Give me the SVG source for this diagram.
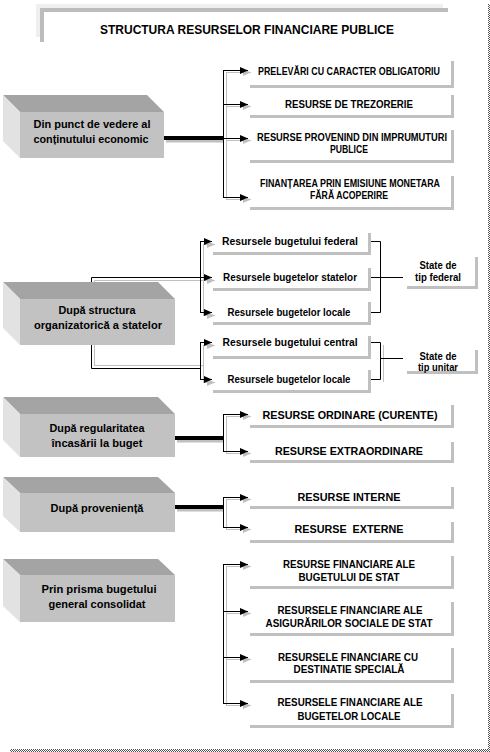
<svg xmlns="http://www.w3.org/2000/svg" width="490" height="752" viewBox="0 0 490 752">
<style>
.t{font-family:"Liberation Sans Narrow","Liberation Sans",Arial,sans-serif;font-weight:bold;text-anchor:middle;fill:#000}
.s10{font-size:10px}.s11{font-size:11px}.s13{font-size:13px}
.bx{fill:none;stroke:#c0c0c0;stroke-width:3}
.c{fill:none;stroke:#000;stroke-width:1}
.cg{fill:none;stroke:#c0c0c0;stroke-width:1}
.thk{stroke:#000;stroke-width:4}
.thkg{stroke:#c0c0c0;stroke-width:3}
.top{fill:#a4a4a4}.side{fill:#e2e2e2}.front{fill:#c2c2c2}
.a{marker-end:url(#ah)}.ag{marker-end:url(#ahg)}
</style>
<defs>
<marker id="ah" markerWidth="8" markerHeight="7" refX="8" refY="3.5" orient="auto" markerUnits="userSpaceOnUse"><path d="M0,0 L8,3.5 L0,7 z" fill="#000"/></marker>
<marker id="ahg" markerWidth="8" markerHeight="7" refX="8" refY="3.5" orient="auto" markerUnits="userSpaceOnUse"><path d="M0,0 L8,3.5 L0,7 z" fill="#c0c0c0"/></marker>
<pattern id="chk" width="2" height="2" patternUnits="userSpaceOnUse"><rect width="1" height="1" fill="#555"/><rect x="1" y="1" width="1" height="1" fill="#555"/></pattern>
</defs>
<rect width="490" height="752" fill="#fff"/>
<rect x="488" y="4" width="2" height="748" fill="url(#chk)"/>
<rect x="10" y="749" width="480" height="3" fill="url(#chk)"/>

<g id="title">
<rect x="36" y="4" width="407" height="33" fill="#efefef"/>
<rect x="40" y="8" width="408" height="34" fill="#bcbcbc"/>
<rect x="44" y="12" width="410" height="40" fill="#fff"/>
<text class="t s13" x="247" y="34" textLength="294" lengthAdjust="spacingAndGlyphs">STRUCTURA RESURSELOR FINANCIARE PUBLICE</text>
</g>

<g id="connectors">
<!-- section 1 -->
<line class="thkg" x1="166" y1="141" x2="224" y2="141"/>
<path class="cg" d="M226.5,72 V199"/>
<line class="cg ag" x1="226" y1="72.5" x2="251" y2="72.5"/>
<line class="cg ag" x1="226" y1="106.5" x2="251" y2="106.5"/>
<line class="cg ag" x1="226" y1="140.5" x2="251" y2="140.5"/>
<line class="cg ag" x1="226" y1="199.5" x2="251" y2="199.5"/>
<line class="thk" x1="164" y1="138" x2="224" y2="138"/>
<path class="c" d="M223.5,70 V198"/>
<line class="c a" x1="223" y1="70.5" x2="248" y2="70.5"/>
<line class="c a" x1="223" y1="104.5" x2="248" y2="104.5"/>
<line class="c a" x1="223" y1="138.5" x2="248" y2="138.5"/>
<line class="c a" x1="223" y1="197.5" x2="248" y2="197.5"/>

<!-- section 2 -->
<path class="cg" d="M94.5,299 V280.5 H203"/>
<line class="cg ag" x1="203" y1="280.5" x2="215" y2="280.5"/>
<path class="cg" d="M203.5,244 V315"/>
<line class="cg ag" x1="203" y1="244.5" x2="215" y2="244.5"/>
<line class="cg ag" x1="203" y1="315.5" x2="215" y2="315.5"/>
<path class="cg" d="M94.5,345 V365.5 H203"/>
<path class="cg" d="M203.5,345 V382"/>
<line class="cg ag" x1="203" y1="345.5" x2="215" y2="345.5"/>
<line class="cg ag" x1="203" y1="382.5" x2="215" y2="382.5"/>

<path class="c" d="M91.5,299 V277.5 H200"/>
<line class="c a" x1="200" y1="277.5" x2="212" y2="277.5"/>
<path class="c" d="M200.5,241 V312"/>
<line class="c a" x1="200" y1="241.5" x2="212" y2="241.5"/>
<line class="c a" x1="200" y1="312.5" x2="212" y2="312.5"/>
<path class="c" d="M91.5,345 V368.5 H200.5"/>
<path class="c" d="M200.5,342 V379"/>
<line class="c a" x1="200" y1="342.5" x2="212" y2="342.5"/>
<line class="c a" x1="200" y1="379.5" x2="212" y2="379.5"/>

<path class="c" d="M368,241.5 H380.5 V312.5 H368"/>
<line class="c" x1="368" y1="277.5" x2="403" y2="277.5"/>
<path class="cg" d="M383.5,345 V382"/>
<path class="c" d="M368,342.5 H380.5 V379.5 H368"/>
<line class="c" x1="380" y1="358.5" x2="403" y2="358.5"/>

<!-- section 3 -->
<line class="thkg" x1="177" y1="441" x2="224" y2="441"/>
<path class="cg" d="M226.5,416 V453"/>
<line class="cg ag" x1="226" y1="416.5" x2="251" y2="416.5"/>
<line class="cg ag" x1="226" y1="453.5" x2="251" y2="453.5"/>
<line class="thk" x1="175" y1="438" x2="224" y2="438"/>
<path class="c" d="M223.5,414 V452"/>
<line class="c a" x1="223" y1="414.5" x2="248" y2="414.5"/>
<line class="c a" x1="223" y1="451.5" x2="248" y2="451.5"/>

<!-- section 4 -->
<line class="thkg" x1="177" y1="510" x2="224" y2="510"/>
<path class="cg" d="M226.5,499 V529"/>
<line class="cg ag" x1="226" y1="499.5" x2="251" y2="499.5"/>
<line class="cg ag" x1="226" y1="529.5" x2="251" y2="529.5"/>
<line class="thk" x1="175" y1="507" x2="224" y2="507"/>
<path class="c" d="M223.5,497 V528"/>
<line class="c a" x1="223" y1="497.5" x2="248" y2="497.5"/>
<line class="c a" x1="223" y1="527.5" x2="248" y2="527.5"/>

<!-- section 5 -->
<path class="cg" d="M226.5,566 V705"/>
<line class="cg ag" x1="226" y1="566.5" x2="251" y2="566.5"/>
<line class="cg ag" x1="226" y1="613.5" x2="251" y2="613.5"/>
<line class="cg ag" x1="226" y1="659.5" x2="251" y2="659.5"/>
<line class="cg ag" x1="226" y1="705.5" x2="251" y2="705.5"/>
<path class="c" d="M223.5,564 V704"/>
<line class="c a" x1="223" y1="564.5" x2="248" y2="564.5"/>
<line class="c a" x1="223" y1="611.5" x2="248" y2="611.5"/>
<line class="c a" x1="223" y1="657.5" x2="248" y2="657.5"/>
<line class="c a" x1="223" y1="703.5" x2="248" y2="703.5"/>
</g>

<!-- left 3D boxes -->
<g id="b1">
<polygon class="top" points="3,95 147,95 164,112 20,112"/>
<polygon class="side" points="3,95 20,112 20,158 3,141"/>
<rect class="front" x="20" y="112" width="144" height="46"/>
<text class="t s11" x="92" y="128" textLength="117" lengthAdjust="spacingAndGlyphs">Din punct de vedere al</text>
<text class="t s11" x="91" y="143" textLength="115" lengthAdjust="spacingAndGlyphs">conținutului economic</text>
</g>
<g id="b2">
<polygon class="top" points="3,282 158,282 175,299 20,299"/>
<polygon class="side" points="3,282 20,299 20,345 3,328"/>
<rect class="front" x="20" y="299" width="155" height="46"/>
<text class="t s11" x="97" y="314" textLength="77" lengthAdjust="spacingAndGlyphs">După structura</text>
<text class="t s11" x="98" y="329" textLength="128" lengthAdjust="spacingAndGlyphs">organizatorică a statelor</text>
</g>
<g id="b3">
<polygon class="top" points="3,397 158,397 175,414 20,414"/>
<polygon class="side" points="3,397 20,414 20,457 3,440"/>
<rect class="front" x="20" y="414" width="155" height="43"/>
<text class="t s11" x="97" y="432" textLength="95" lengthAdjust="spacingAndGlyphs">După regularitatea</text>
<text class="t s11" x="97" y="447" textLength="91" lengthAdjust="spacingAndGlyphs">încasării la buget</text>
</g>
<g id="b4">
<polygon class="top" points="3,477 158,477 175,493 20,493"/>
<polygon class="side" points="3,477 20,493 20,532 3,516"/>
<rect class="front" x="20" y="493" width="155" height="39"/>
<text class="t s11" x="97" y="512" textLength="93" lengthAdjust="spacingAndGlyphs">După proveniență</text>
</g>
<g id="b5">
<polygon class="top" points="3,559 158,559 175,575 20,575"/>
<polygon class="side" points="3,559 20,575 20,622 3,606"/>
<rect class="front" x="20" y="575" width="155" height="47"/>
<text class="t s11" x="99" y="593" textLength="115" lengthAdjust="spacingAndGlyphs">Prin prisma bugetului</text>
<text class="t s11" x="97" y="608" textLength="97" lengthAdjust="spacingAndGlyphs">general consolidat</text>
</g>

<!-- column A -->
<g id="a1"><path class="bx" d="M452.5,61 V86.5 H250"/>
<text class="t s10" x="349" y="75" textLength="182" lengthAdjust="spacingAndGlyphs">PRELEVĂRI CU CARACTER OBLIGATORIU</text></g>
<g id="a2"><path class="bx" d="M452.5,95 V116.5 H250"/>
<text class="t s10" x="349" y="108" textLength="128" lengthAdjust="spacingAndGlyphs">RESURSE DE TREZORERIE</text></g>
<g id="a3"><path class="bx" d="M452.5,130 V161.5 H250"/>
<text class="t s10" x="352" y="141" textLength="190" lengthAdjust="spacingAndGlyphs">RESURSE PROVENIND DIN IMPRUMUTURI</text>
<text class="t s10" x="349" y="153" textLength="38" lengthAdjust="spacingAndGlyphs">PUBLICE</text></g>
<g id="a4"><path class="bx" d="M452.5,176 V208.5 H250"/>
<text class="t s10" x="350" y="187" textLength="180" lengthAdjust="spacingAndGlyphs">FINANȚAREA PRIN EMISIUNE MONETARA</text>
<text class="t s10" x="349" y="199" textLength="78" lengthAdjust="spacingAndGlyphs">FĂRĂ ACOPERIRE</text></g>
<g id="a5"><path class="bx" d="M452.5,405 V426.5 H250"/>
<text class="t s11" x="350" y="419" textLength="175" lengthAdjust="spacingAndGlyphs">RESURSE ORDINARE (CURENTE)</text></g>
<g id="a6"><path class="bx" d="M452.5,442 V461.5 H250"/>
<text class="t s11" x="349" y="455" textLength="148" lengthAdjust="spacingAndGlyphs">RESURSE EXTRAORDINARE</text></g>
<g id="a7"><path class="bx" d="M452.5,487 V507.5 H250"/>
<text class="t s11" x="349" y="501" textLength="103" lengthAdjust="spacingAndGlyphs">RESURSE INTERNE</text></g>
<g id="a8"><path class="bx" d="M452.5,522 V541.5 H250"/>
<text class="t s11" x="349" y="533" textLength="109" lengthAdjust="spacingAndGlyphs" style="white-space:pre">RESURSE  EXTERNE</text></g>
<g id="a9"><path class="bx" d="M452.5,556 V587.5 H250"/>
<text class="t s11" x="349" y="568" textLength="132" lengthAdjust="spacingAndGlyphs">RESURSE FINANCIARE ALE</text>
<text class="t s11" x="349" y="581" textLength="101" lengthAdjust="spacingAndGlyphs">BUGETULUI DE STAT</text></g>
<g id="a10"><path class="bx" d="M452.5,602 V634.5 H250"/>
<text class="t s11" x="350" y="614" textLength="145" lengthAdjust="spacingAndGlyphs">RESURSELE FINANCIARE ALE</text>
<text class="t s11" x="349" y="627" textLength="167" lengthAdjust="spacingAndGlyphs">ASIGURĂRILOR SOCIALE DE STAT</text></g>
<g id="a11"><path class="bx" d="M452.5,648 V681.5 H250"/>
<text class="t s11" x="348" y="661" textLength="140" lengthAdjust="spacingAndGlyphs">RESURSELE FINANCIARE CU</text>
<text class="t s11" x="349" y="673" textLength="111" lengthAdjust="spacingAndGlyphs">DESTINATIE SPECIALĂ</text></g>
<g id="a12"><path class="bx" d="M452.5,694 V726.5 H250"/>
<text class="t s11" x="350" y="706" textLength="145" lengthAdjust="spacingAndGlyphs">RESURSELE FINANCIARE ALE</text>
<text class="t s11" x="349" y="720" textLength="103" lengthAdjust="spacingAndGlyphs">BUGETELOR LOCALE</text></g>

<!-- section 2 boxes -->
<g id="r1"><path class="bx" d="M369.5,233 V253.5 H213"/>
<text class="t s10" x="290" y="245" textLength="136" lengthAdjust="spacingAndGlyphs">Resursele bugetului federal</text></g>
<g id="r2"><path class="bx" d="M369.5,268 V289.5 H213"/>
<text class="t s10" x="290" y="281" textLength="134" lengthAdjust="spacingAndGlyphs">Resursele bugetelor statelor</text></g>
<g id="r3"><path class="bx" d="M369.5,302 V323.5 H213"/>
<text class="t s10" x="289" y="316" textLength="123" lengthAdjust="spacingAndGlyphs">Resursele bugetelor locale</text></g>
<g id="r4"><path class="bx" d="M369.5,336 V357.5 H213"/>
<text class="t s10" x="290" y="346" textLength="135" lengthAdjust="spacingAndGlyphs">Resursele bugetului central</text></g>
<g id="r5"><path class="bx" d="M369.5,370 V391.5 H213"/>
<text class="t s10" x="289" y="383" textLength="123" lengthAdjust="spacingAndGlyphs">Resursele bugetelor locale</text></g>
<g id="sf"><path class="bx" d="M476.5,257 V287.5 H407"/>
<text class="t s10" x="438" y="269" textLength="37" lengthAdjust="spacingAndGlyphs">State de</text>
<text class="t s10" x="438" y="281" textLength="46" lengthAdjust="spacingAndGlyphs">tip federal</text></g>
<g id="su"><path class="bx" d="M476.5,350 V372.5 H407"/>
<text class="t s10" x="438" y="360" textLength="37" lengthAdjust="spacingAndGlyphs">State de</text>
<text class="t s10" x="438" y="371" textLength="40" lengthAdjust="spacingAndGlyphs">tip unitar</text></g>
</svg>
